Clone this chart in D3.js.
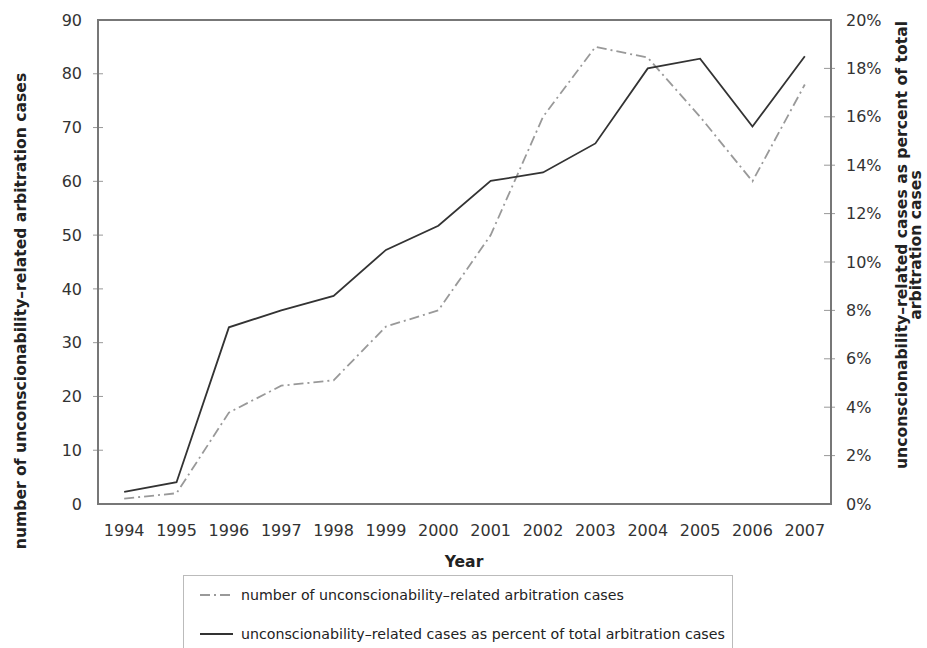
<!DOCTYPE html>
<html>
<head>
<meta charset="utf-8">
<script src="https://cdn.jsdelivr.net/npm/d3@7"></script>
<style>
  html, body { margin: 0; padding: 0; background: #fff; }
  svg { display: block; font-family: "DejaVu Sans", Verdana, sans-serif; }
</style>
</head>
<body>
<script>
const years = ["1994","1995","1996","1997","1998","1999","2000","2001","2002","2003","2004","2005","2006","2007"];
const caseCounts = [1, 2, 17, 22, 23, 33, 36, 50, 72, 85, 83, 72, 60, 78];
const percentOfTotal = [0.5, 0.9, 7.3, 8.0, 8.6, 10.5, 11.5, 13.35, 13.7, 14.9, 18.0, 18.4, 15.6, 18.5];
const leftTicks = [0, 10, 20, 30, 40, 50, 60, 70, 80, 90];
const rightTicks = [0, 2, 4, 6, 8, 10, 12, 14, 16, 18, 20];
const seriesNames = ["number of unconscionability\u2013related arbitration cases",
                     "unconscionability\u2013related cases as percent of total arbitration cases"];

const W = 927, H = 648;
const m = { left: 98, right: 96, top: 20, bottom: 144 };
const pw = W - m.left - m.right, ph = H - m.top - m.bottom;

const svg = d3.select("body").append("svg").attr("width", W).attr("height", H);
const g = svg.append("g").attr("transform", `translate(${m.left},${m.top})`);

const x = d3.scaleBand().domain(years).range([0, pw]);
const yL = d3.scaleLinear().domain([0, 90]).range([ph, 0]);
const yR = d3.scaleLinear().domain([0, 20]).range([ph, 0]);

const labelColor = "#333";
const fs = 16;

// left axis
const axL = g.append("g").call(d3.axisLeft(yL).tickValues(leftTicks).tickSize(0).tickPadding(16));
axL.select(".domain").remove();
axL.selectAll("text").attr("font-size", fs).attr("fill", labelColor).attr("font-family", "DejaVu Sans");
g.append("g").selectAll("line").data(leftTicks.filter(d => d > 0 && d < 90)).join("line")
  .attr("x1", -5).attr("x2", 5).attr("y1", d => yL(d)).attr("y2", d => yL(d))
  .attr("stroke", "#999").attr("stroke-width", 1);

// right axis
const axR = g.append("g").attr("transform", `translate(${pw},0)`)
  .call(d3.axisRight(yR).tickValues(rightTicks).tickSize(0).tickPadding(15).tickFormat(d => d + "%"));
axR.select(".domain").remove();
axR.selectAll("text").attr("font-size", fs).attr("fill", labelColor).attr("font-family", "DejaVu Sans");
g.append("g").selectAll("line").data(rightTicks.filter(d => d > 0 && d < 20)).join("line")
  .attr("x1", pw - 7).attr("x2", pw + 4).attr("y1", d => yR(d)).attr("y2", d => yR(d))
  .attr("stroke", "#999").attr("stroke-width", 1);

// bottom axis
const axB = g.append("g").attr("transform", `translate(0,${ph})`)
  .call(d3.axisBottom(x).tickSize(0).tickPadding(21));
axB.select(".domain").remove();
axB.selectAll("text").attr("font-size", fs).attr("fill", labelColor).attr("font-family", "DejaVu Sans");

// frame
g.append("rect").attr("x", 0).attr("y", 0).attr("width", pw).attr("height", ph)
  .attr("fill", "none").attr("stroke", "#777").attr("stroke-width", 2);

// lines
const lineL = d3.line().x((d, i) => x(years[i]) + x.bandwidth() / 2).y(d => yL(d));
const lineR = d3.line().x((d, i) => x(years[i]) + x.bandwidth() / 2).y(d => yR(d));

g.append("path").datum(caseCounts).attr("d", lineL)
  .attr("fill", "none").attr("stroke", "#999").attr("stroke-width", 1.8)
  .attr("stroke-dasharray", "10,4,2,4");
g.append("path").datum(percentOfTotal).attr("d", lineR)
  .attr("fill", "none").attr("stroke", "#333").attr("stroke-width", 1.8);

// axis titles
const tfs = 15.6;
svg.append("text").attr("transform", `translate(26,311) rotate(-90)`)
  .attr("text-anchor", "middle").attr("font-size", tfs).attr("font-weight", "bold").attr("fill", "#222")
  .text("number of unconscionability\u2013related arbitration cases");
const rt = svg.append("text").attr("transform", `translate(907,245) rotate(-90)`)
  .attr("text-anchor", "middle").attr("font-size", tfs).attr("font-weight", "bold").attr("fill", "#222");
rt.append("tspan").attr("x", 0).attr("dy", 0).text("unconscionability\u2013related cases as percent of total");
rt.append("tspan").attr("x", 0).attr("dy", 14).text("arbitration cases");

svg.append("text").attr("x", 464).attr("y", 567).attr("text-anchor", "middle")
  .attr("font-size", tfs).attr("font-weight", "bold").attr("fill", "#222").text("Year");

// legend
const lg = svg.append("g");
lg.append("rect").attr("x", 183.5).attr("y", 575.5).attr("width", 549).attr("height", 90)
  .attr("fill", "#fff").attr("stroke", "#bbb").attr("stroke-width", 1);
const styles = [
  { stroke: "#999", dash: "10,4,2,4" },
  { stroke: "#333", dash: null }
];
seriesNames.forEach((name, i) => {
  const yy = 595 + i * 39;
  lg.append("line").attr("x1", 200).attr("x2", 233).attr("y1", yy).attr("y2", yy)
    .attr("stroke", styles[i].stroke).attr("stroke-width", 1.8)
    .attr("stroke-dasharray", styles[i].dash);
  lg.append("text").attr("x", 241).attr("y", yy).attr("dy", "0.35em")
    .attr("font-size", 14.2).attr("fill", "#222").text(name);
});
</script>
</body>
</html>
